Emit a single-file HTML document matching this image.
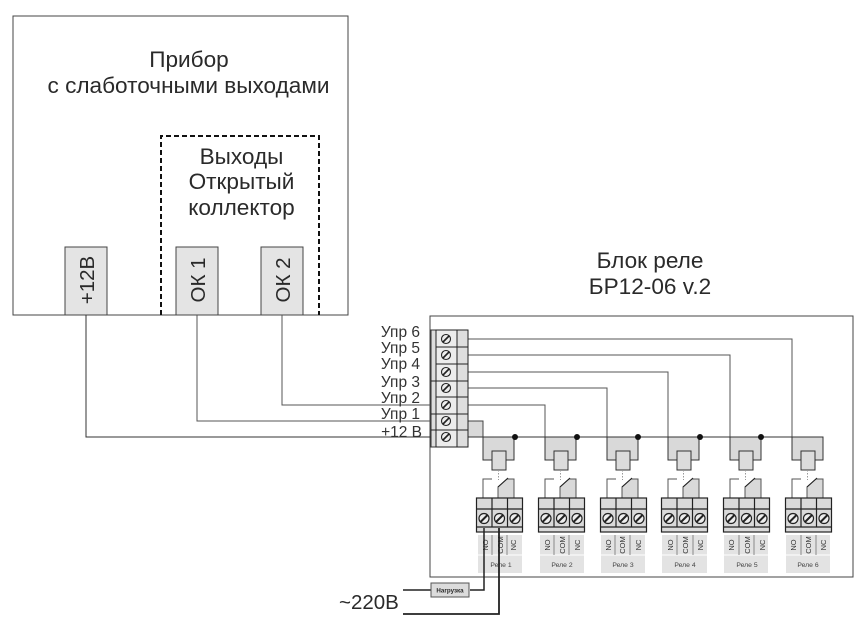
<!DOCTYPE html>
<html><head><meta charset="utf-8"><style>
html,body{margin:0;padding:0;background:#fff}
svg{display:block;filter:blur(0.3px)}
text{font-family:"Liberation Sans",sans-serif;fill:#2a2a2a}
.b{font-size:22.600px;text-anchor:middle}
.v{font-size:20.500px;text-anchor:middle}
.u{font-size:15.500px;text-anchor:end;fill:#333}
.s{font-size:7.500px;text-anchor:middle;fill:#333}
.r{font-size:6.800px;text-anchor:middle;fill:#444}
</style></head><body>
<svg width="868" height="628" viewBox="0 0 868 628" xmlns="http://www.w3.org/2000/svg">
<defs>
<g id="relay" fill="none" stroke="#333" stroke-width="1">
  <path d="M0 0H31V23H23V14H9V23H0Z" fill="#d9d9d9"/>
  <rect x="9" y="14" width="14" height="19" fill="#dcdcdc"/>
  <path d="M15.500 33V43" stroke="#999" stroke-dasharray="1.500 1.500"/>
  <path d="M9 42H0V61" stroke="#555"/>
  <path d="M15 61V50L24 42H31V61Z" fill="#d9d9d9" stroke="#555"/>
  <path d="M15 50L25 41" stroke="#222"/>
  <rect x="-6.500" y="61" width="46" height="34" fill="#dadada" stroke="#222" stroke-width="1.200"/>
  <path d="M-6.500 72H39.500M-6.500 90H39.500M9 61V90M24.500 61V90" stroke="#222" stroke-width="1.200"/>
  <g stroke="#222" stroke-width="1.200" fill="#eee">
    <circle cx="1" cy="81.500" r="5"/><circle cx="16.500" cy="81.500" r="5"/><circle cx="32" cy="81.500" r="5"/>
  </g>
  <path d="M-2.500 85L4.500 78M13 85L20 78M28.500 85L35.500 78" stroke="#222" stroke-width="2"/>
</g>
<g id="screw" fill="#eee" stroke="#222" stroke-width="1.100">
  <circle r="4.500"/><path d="M-3 3L3 -3" stroke-width="1.600"/>
</g>
</defs>

<!-- Device -->
<rect x="13" y="16" width="335" height="299" fill="#fff" stroke="#444" stroke-width="1"/>
<path d="M161 315V136H319V315" fill="none" stroke="#111" stroke-width="2" stroke-dasharray="5 3"/>
<rect x="65" y="247" width="42" height="68" fill="#e4e4e4" stroke="#444"/>
<rect x="176" y="247" width="42" height="68" fill="#e4e4e4" stroke="#444"/>
<rect x="261" y="247" width="42" height="68" fill="#e4e4e4" stroke="#444"/>
<text class="b" x="189" y="67">Прибор</text>
<text class="b" x="188.500" y="93">с слаботочными выходами</text>
<text class="b" x="241.500" y="164">Выходы</text>
<text class="b" x="241.500" y="189">Открытый</text>
<text class="b" x="241.500" y="215">коллектор</text>
<text class="v" transform="translate(94 280) rotate(-90)">+12В</text>
<text class="v" transform="translate(205 280) rotate(-90)">ОК 1</text>
<text class="v" transform="translate(290 280) rotate(-90)">ОК 2</text>

<!-- Relay block -->
<rect x="430" y="316" width="423" height="261" fill="#fff" stroke="#444" stroke-width="1"/>
<text class="b" x="650" y="268">Блок реле</text>
<text class="b" x="650" y="294">БР12-06 v.2</text>

<!-- relay label panels -->
<g fill="#e3e3e3">
<rect x="478" y="535" width="44" height="38"/><rect x="540" y="535" width="44" height="38"/>
<rect x="601" y="535" width="44" height="38"/><rect x="662" y="535" width="45" height="38"/>
<rect x="724" y="535" width="44" height="38"/><rect x="786" y="535" width="44" height="38"/>
</g>
<g fill="none" stroke="#fff"><path d="M478 555H522M540 555H584M601 555H645M662 555H707M724 555H768M786 555H830"/></g>
<g fill="none" stroke="#8a8a8a"><path d="M492 535V555M507 535V555M554 535V555M569 535V555M615 535V555M630 535V555M677 535V555M693 535V555M739 535V555M754 535V555M801 535V555M816 535V555"/></g>

<!-- relays -->
<use href="#relay" x="483" y="437"/>
<use href="#relay" x="545" y="437"/>
<use href="#relay" x="607" y="437"/>
<use href="#relay" x="668" y="437"/>
<use href="#relay" x="730" y="437"/>
<use href="#relay" x="792" y="437"/>

<!-- control wires -->
<g fill="none" stroke="#555" stroke-width="1">
  <path d="M468 339H792V437"/>
  <path d="M468 355H730V437"/>
  <path d="M468 372H668V437"/>
  <path d="M468 388H607V437"/>
  <path d="M282 315V405H545V437"/>
  <path d="M197 315V421H483V437"/>
  <path d="M86 315V437H792" stroke="#333"/>
</g>
<rect x="457" y="421" width="26" height="16" fill="#d9d9d9" stroke="#444"/>
<path d="M86 437H823" stroke="#333" fill="none"/>
<g fill="#111">
  <circle cx="515" cy="437" r="3"/><circle cx="577" cy="437" r="3"/><circle cx="638" cy="437" r="3"/>
  <circle cx="700" cy="437" r="3"/><circle cx="761" cy="437" r="3"/>
</g>

<!-- main terminal -->
<rect x="431" y="330" width="37" height="117" fill="#fff" stroke="#222"/>
<rect x="457" y="330" width="11" height="117" fill="#dedede" stroke="#222"/>
<rect x="431" y="330" width="5" height="117" fill="#ddd" stroke="#333"/>
<rect x="436" y="330" width="21" height="117" fill="#ececec" stroke="#222"/>
<path d="M436 347H468M436 364H468M431 381H468M436 397H468M431 414H468M431 430H468" stroke="#222" fill="none"/>
<use href="#screw" x="446" y="339"/>
<use href="#screw" x="446" y="355"/>
<use href="#screw" x="446" y="372"/>
<use href="#screw" x="446" y="388"/>
<use href="#screw" x="446" y="405"/>
<use href="#screw" x="446" y="421"/>
<use href="#screw" x="446" y="437"/>

<text class="u" x="420" y="337">Упр 6</text>
<text class="u" x="420" y="353">Упр 5</text>
<text class="u" x="420" y="369">Упр 4</text>
<text class="u" x="420" y="387">Упр 3</text>
<text class="u" x="420" y="403">Упр 2</text>
<text class="u" x="420" y="419">Упр 1</text>
<text class="u" x="422" y="437">+12 В</text>

<!-- relay labels -->
<text class="s" transform="translate(488 545) rotate(-90)">NO</text><text class="s" transform="translate(503 545) rotate(-90)">COM</text><text class="s" transform="translate(516 545) rotate(-90)">NC</text><text class="r" x="501" y="567">Реле 1</text>
<text class="s" transform="translate(550 545) rotate(-90)">NO</text><text class="s" transform="translate(565 545) rotate(-90)">COM</text><text class="s" transform="translate(580 545) rotate(-90)">NC</text><text class="r" x="562" y="567">Реле 2</text>
<text class="s" transform="translate(611 545) rotate(-90)">NO</text><text class="s" transform="translate(625 545) rotate(-90)">COM</text><text class="s" transform="translate(641 545) rotate(-90)">NC</text><text class="r" x="623" y="567">Реле 3</text>
<text class="s" transform="translate(673 545) rotate(-90)">NO</text><text class="s" transform="translate(688 545) rotate(-90)">COM</text><text class="s" transform="translate(703 545) rotate(-90)">NC</text><text class="r" x="685" y="567">Реле 4</text>
<text class="s" transform="translate(734 545) rotate(-90)">NO</text><text class="s" transform="translate(750 545) rotate(-90)">COM</text><text class="s" transform="translate(765 545) rotate(-90)">NC</text><text class="r" x="747" y="567">Реле 5</text>
<text class="s" transform="translate(796 545) rotate(-90)">NO</text><text class="s" transform="translate(811 545) rotate(-90)">COM</text><text class="s" transform="translate(826 545) rotate(-90)">NC</text><text class="r" x="808" y="567">Реле 6</text>

<!-- load wiring -->
<path d="M403 590H431M470 590H484V528" fill="none" stroke="#222" stroke-width="1.500"/>
<path d="M403 614H499V528" fill="none" stroke="#222" stroke-width="1.800"/>
<rect x="431" y="583" width="38" height="14" fill="#dcdcdc" stroke="#555"/>
<text x="450" y="592.500" style="font-size:6.200px;font-weight:bold;text-anchor:middle">Нагрузка</text>
<text x="339" y="609" style="font-size:20.500px">~220В</text>
</svg>
</body></html>
